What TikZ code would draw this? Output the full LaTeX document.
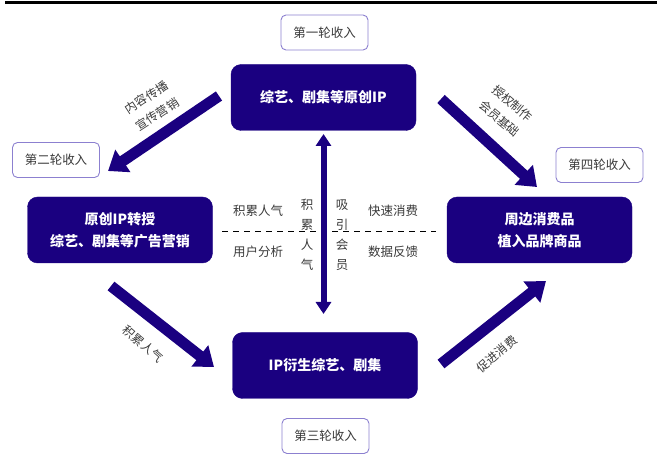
\documentclass[tikz,border=0pt]{standalone}
\usepackage{fontspec}
\setmainfont{Noto Sans CJK SC}
\usetikzlibrary{arrows.meta}
\definecolor{navy}{HTML}{1A0080}
\definecolor{lblborder}{HTML}{8C80D0}
\definecolor{txtgray}{HTML}{3A3A3A}
\tikzset{
  mainbox/.style={draw=navy, fill=navy, rounded corners=10pt, minimum width=185pt, minimum height=66pt,
    text=white, font=\fontsize{14}{22}\selectfont\bfseries, align=center, inner sep=0pt},
  roundlbl/.style={draw=lblborder, line width=0.9pt, fill=white, rounded corners=5pt, minimum width=87pt,
    minimum height=35pt, text=txtgray, font=\fontsize{12.5}{15}\selectfont, inner sep=0pt},
  lbl/.style={text=txtgray, font=\fontsize{12.5}{18}\selectfont, align=center, inner sep=0pt},
  rotlbl/.style={text=txtgray, font=\fontsize{12}{20}\selectfont, align=center, inner sep=0pt},
  bigarrow/.style={draw=navy, line width=11pt, -{Triangle[width=26pt,length=18pt]}},
  dblarrow/.style={draw=navy, line width=6pt, {Triangle[width=15pt,length=12pt]}-{Triangle[width=15pt,length=12pt]}},
}
\begin{document}
\begin{tikzpicture}[x=1pt,y=-1pt]
\useasboundingbox (0,0) rectangle (657,457);
\draw[black, line width=3pt] (5,3) -- (657,3);

% main boxes
\node[mainbox] (top) at (323.5,97.5) {综艺、剧集等原创IP};
\node[mainbox] (left) at (120,230) {原创IP转授\\综艺、剧集等广告营销};
\node[mainbox] (right) at (539.5,230) {周边消费品\\植入品牌商品};
\node[mainbox] (bottom) at (325,365.5) {IP衍生综艺、剧集};

% revenue labels
\node[roundlbl] (r1) at (324.5,32.5) {第一轮收入};
\node[roundlbl] (r2) at (56,160) {第二轮收入};
\node[roundlbl] (r4) at (599.5,165) {第四轮收入};
\node[roundlbl] (r3) at (325.5,436) {第三轮收入};

% arrow endpoints
\coordinate (a1s) at (219,96);
\coordinate (a1e) at (108,171);
\coordinate (a2s) at (441,99);
\coordinate (a2e) at (537,187);
\coordinate (a3s) at (111,286);
\coordinate (a3e) at (214,367);
\coordinate (a4s) at (441,364);
\coordinate (a4e) at (546,281);
\coordinate (vs) at (323.5,134);
\coordinate (ve) at (323.5,314);

\draw[bigarrow] (a1s) -- (a1e);
\draw[bigarrow] (a2s) -- (a2e);
\draw[bigarrow] (a3s) -- (a3e);
\draw[bigarrow] (a4s) -- (a4e);

% dashed line
\coordinate (dl) at (222,231);
\coordinate (dr) at (436,231);
\draw[black, line width=0.8pt, dash pattern=on 6pt off 5pt] (dl) -- (dr);

\draw[dblarrow] (vs) -- (ve);

% middle labels
\node[lbl] (m1) at (258,211) {积累人气};
\node[lbl] (m2) at (258,252) {用户分析};
\node[lbl] (m3) at (393,211) {快速消费};
\node[lbl] (m4) at (393,252) {数据反馈};
\node[lbl, font=\fontsize{12.5}{20}\selectfont] (v1) at (307,235) {积\\累\\人\\气};
\node[lbl, font=\fontsize{12.5}{20}\selectfont] (v2) at (342,235) {吸\\引\\会\\员};

% rotated labels
\node[rotlbl, rotate=33] (t1) at (152,106) {内容传播\\宣传营销};
\node[rotlbl, rotate=-40] (t2) at (506,111) {授权制作\\会员基础};
\node[rotlbl, rotate=-41] (t3) at (143,344) {积累人气};
\node[rotlbl, rotate=41] (t4) at (497,354) {促进消费};
\end{tikzpicture}
\end{document}
